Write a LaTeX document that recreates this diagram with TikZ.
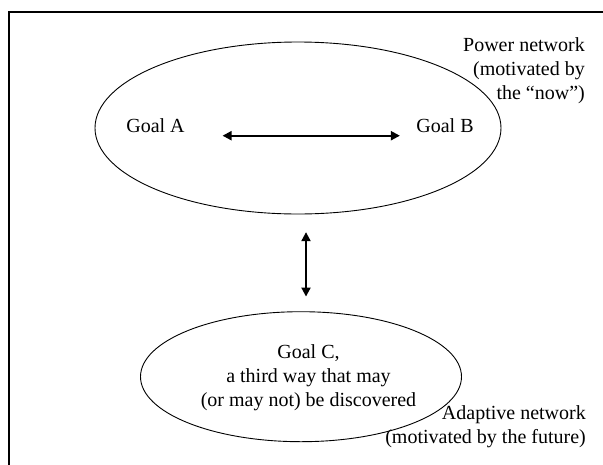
\documentclass[tikz,border=0pt]{standalone}
\usepackage{fontspec}
\setmainfont{Liberation Serif}
\usetikzlibrary{arrows.meta,shapes.geometric}
\begin{document}
\begin{tikzpicture}[x=1pt,y=-1pt,
  txt/.style={inner sep=0pt,font=\fontsize{20}{24}\selectfont},
  net/.style={draw,ellipse,inner sep=0pt,line width=0.9pt},
  link/.style={line width=2pt,{Triangle[length=9pt,width=9pt]}-{Triangle[length=9pt,width=9pt]}},
  frame/.style={draw,line width=1.5pt}]
  \clip (0,0) rectangle (603,464);
  % outer frame, running past the right and bottom edges
  \path[frame] (9,12) rectangle (640,500);

  % the two networks
  \node[net,minimum width=406pt,minimum height=172pt] (pow) at (298,128) {};
  \node[net,minimum width=321pt,minimum height=130pt] (ada) at (301,376.7) {};

  % goals (base = baseline of the last line)
  \node[txt,anchor=base] (ga) at (155.5,132.7) {Goal A};
  \node[txt,anchor=base] (gb) at (445,132.7) {Goal B};
  \node[txt,anchor=base,align=center] (gc) at (308.5,406.5) {Goal C,\\a third way that may\\(or may not) be discovered};

  % network labels
  \node[txt,anchor=base east,align=right] (pl) at (585,99.5) {Power network\\(motivated by\\the “now”)};
  \node[txt,anchor=base east,align=right] (al) at (586,443) {Adaptive network\\(motivated by the future)};

  % connectors
  \draw[link] ([xshift=37.7pt,yshift=-3pt]ga.base east) -- ([xshift=-16.3pt,yshift=-3pt]gb.base west);
  \coordinate (vx) at (306,0);
  \draw[link,shorten <=17.7pt,shorten >=14.7pt] (pow.south -| vx) -- (ada.north -| vx);
\end{tikzpicture}
\end{document}
